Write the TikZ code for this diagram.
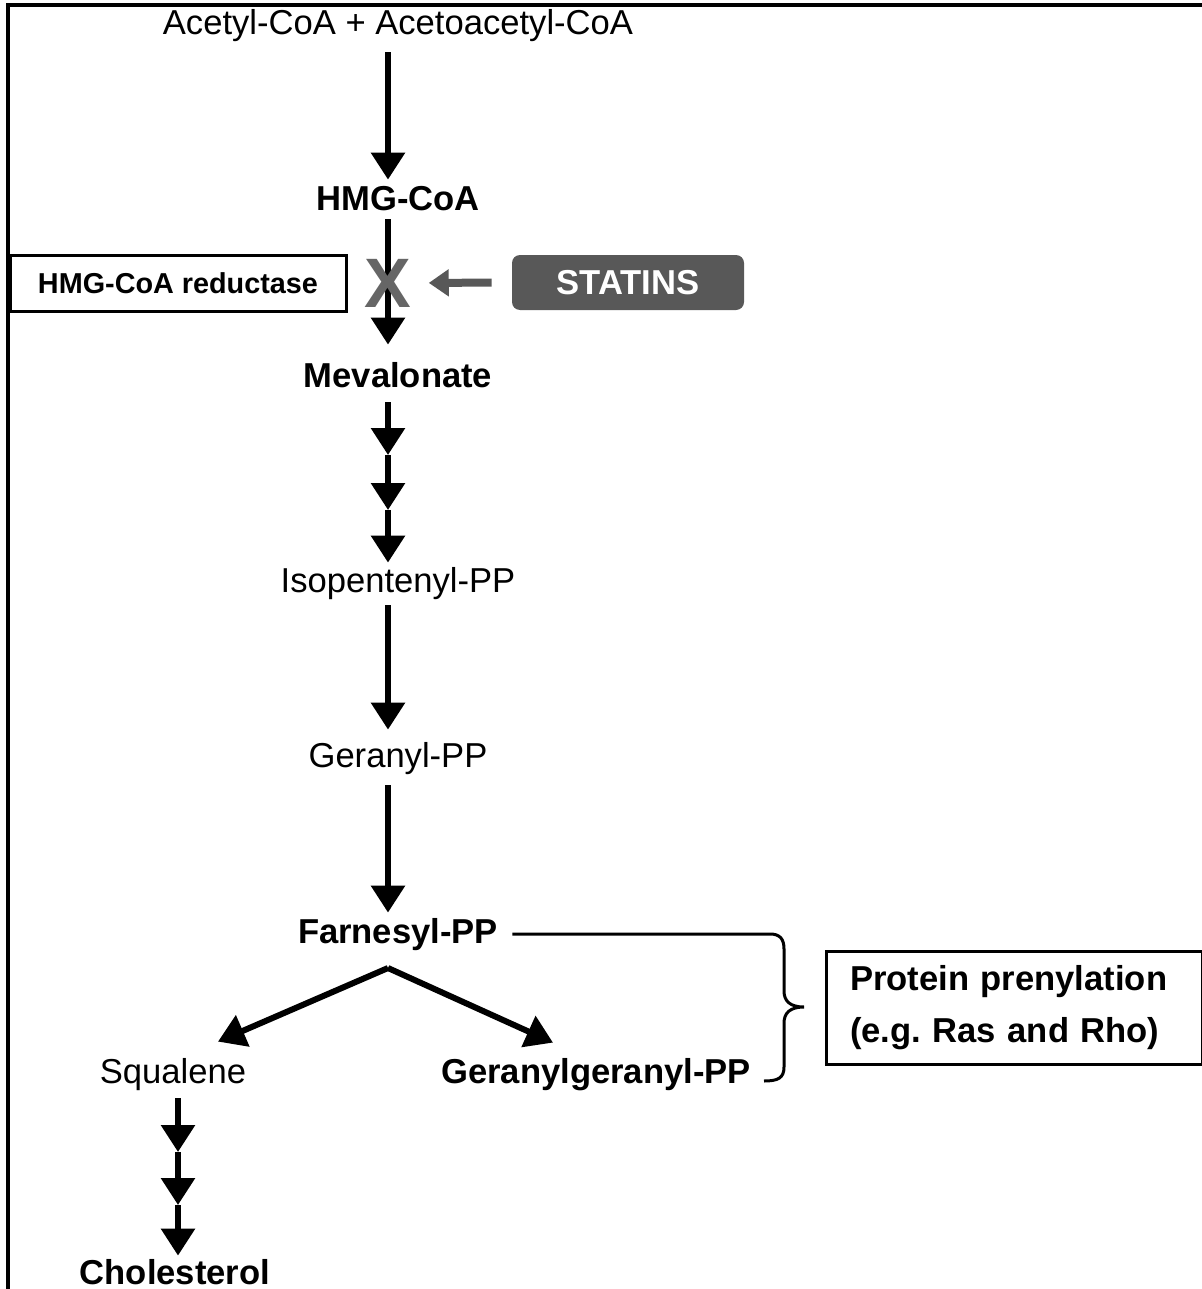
\documentclass[tikz,border=0pt]{standalone}
\usepackage{fontspec}
\setmainfont{Liberation Sans}
\usetikzlibrary{arrows.meta,calc}
\definecolor{statgray}{HTML}{585858}
\definecolor{xgray}{HTML}{666666}
\begin{document}
\begin{tikzpicture}[x=0.5pt,y=-0.5pt,
  lbl/.style={inner sep=0pt, anchor=base, text height=13pt, text depth=4pt,
              font=\fontsize{17.3pt}{20pt}\selectfont},
  blbl/.style={lbl, font=\fontsize{17.3pt}{20pt}\selectfont\bfseries},
  arr/.style={line width=3pt, -{Triangle[length=13.5pt,width=16.5pt]}},
  grayarr/.style={line width=4pt, draw=statgray, -{Triangle[length=10pt,width=13pt]}},
  thinline/.style={line width=1.5pt},
  boxed/.style={draw, line width=1.5pt, inner sep=0pt}
]
\useasboundingbox (0,0) rectangle (1202,1289);
% frame
\draw[line width=2pt] (8,1289) -- (8,5) -- (1202,5);

\coordinate (ax) at (388,0);
\coordinate (sx) at (178,0);

% labels
\node[lbl]  (acetyl) at (398,35)  {Acetyl-CoA + Acetoacetyl-CoA};
\node[blbl] (hmg)    at (398,211) {HMG-CoA};
\node[blbl] (mev)    at (398,387) {Mevalonate};
\node[lbl]  (iso)    at (398,592) {Isopentenyl-PP};
\node[lbl]  (ger)    at (398,767) {Geranyl-PP};
\node[blbl] (far)    at (398,943) {Farnesyl-PP};
\node[lbl]  (squ)    at (173,1083) {Squalene};
\node[blbl] (gg)     at (596,1083) {Geranylgeranyl-PP};
\node[blbl] (chol)   at (175,1284) {Cholesterol};

% boxes
\node[boxed, minimum width=168pt, minimum height=28pt,
      font=\fontsize{14.4pt}{16pt}\selectfont\bfseries] (red) at (178,283) {HMG-CoA reductase};
\node[fill=statgray, rounded corners=4pt, inner sep=0pt, minimum width=116pt, minimum height=27.5pt,
      text=white, font=\fontsize{17.3pt}{20pt}\selectfont\bfseries] (stat) at (628,282.5) {STATINS};
\node[boxed, minimum width=188pt, minimum height=56.5pt, text width=168pt, align=left,
      inner xsep=10pt, font=\fontsize{17.3pt}{26pt}\selectfont\bfseries]
      (prot) at (1014,1008) {\hspace*{2pt}Protein prenylation\\\hspace*{2pt}(e.g.\ Ras and Rho)};

% main chain
\draw[arr, shorten <=4.5pt, shorten >=2.5pt] (acetyl.south -| ax) -- (hmg.north -| ax);
\draw[arr, shorten >=8pt] (hmg.south -| ax) -- (mev.north -| ax);
\node[inner sep=0pt, text=xgray, font=\fontsize{35pt}{35pt}\selectfont\bfseries] (xmark) at (388,283) {X};
\draw[grayarr, shorten <=10pt, shorten >=8.5pt] (stat.west) -- (xmark.east);

\coordinate (c1) at (388,455);
\coordinate (c2) at (388,510);
\draw[arr, shorten <=3.5pt] (mev.south -| ax) -- (c1);
\draw[arr] (c1) -- (c2);
\draw[arr, shorten >=1.5pt] (c2) -- (iso.north -| ax);

\draw[arr, shorten <=2.5pt, shorten >=5.5pt] (iso.south -| ax) -- (ger.north -| ax);
\draw[arr, shorten <=5pt, shorten >=2pt] (ger.south -| ax) -- (far.north -| ax);

% branch
\coordinate (split) at (388,968);
\draw[arr] (split) -- ([xshift=22.5pt,yshift=7.5pt]squ.north);
\draw[arr] (split) -- ([xshift=-21.5pt,yshift=7pt]gg.north);

% squalene to cholesterol
\coordinate (c4) at (178,1152);
\coordinate (c5) at (178,1205);
\draw[arr, shorten <=3.5pt] (squ.south -| sx) -- (c4);
\draw[arr] (c4) -- (c5);
\draw[arr, shorten >=1pt] (c5) -- (chol.north -| sx);

% brace
\draw[thinline, shorten <=7pt] (far.east) -- (770,934)
  .. controls (780,934) and (784,939) .. (784,949) -- (784,991)
  .. controls (784,1001) and (790,1007) .. (804,1007)
  .. controls (790,1007) and (784,1013) .. (784,1023) -- (784,1067)
  .. controls (784,1078) and (778,1081) .. (764,1081);
\end{tikzpicture}
\end{document}
